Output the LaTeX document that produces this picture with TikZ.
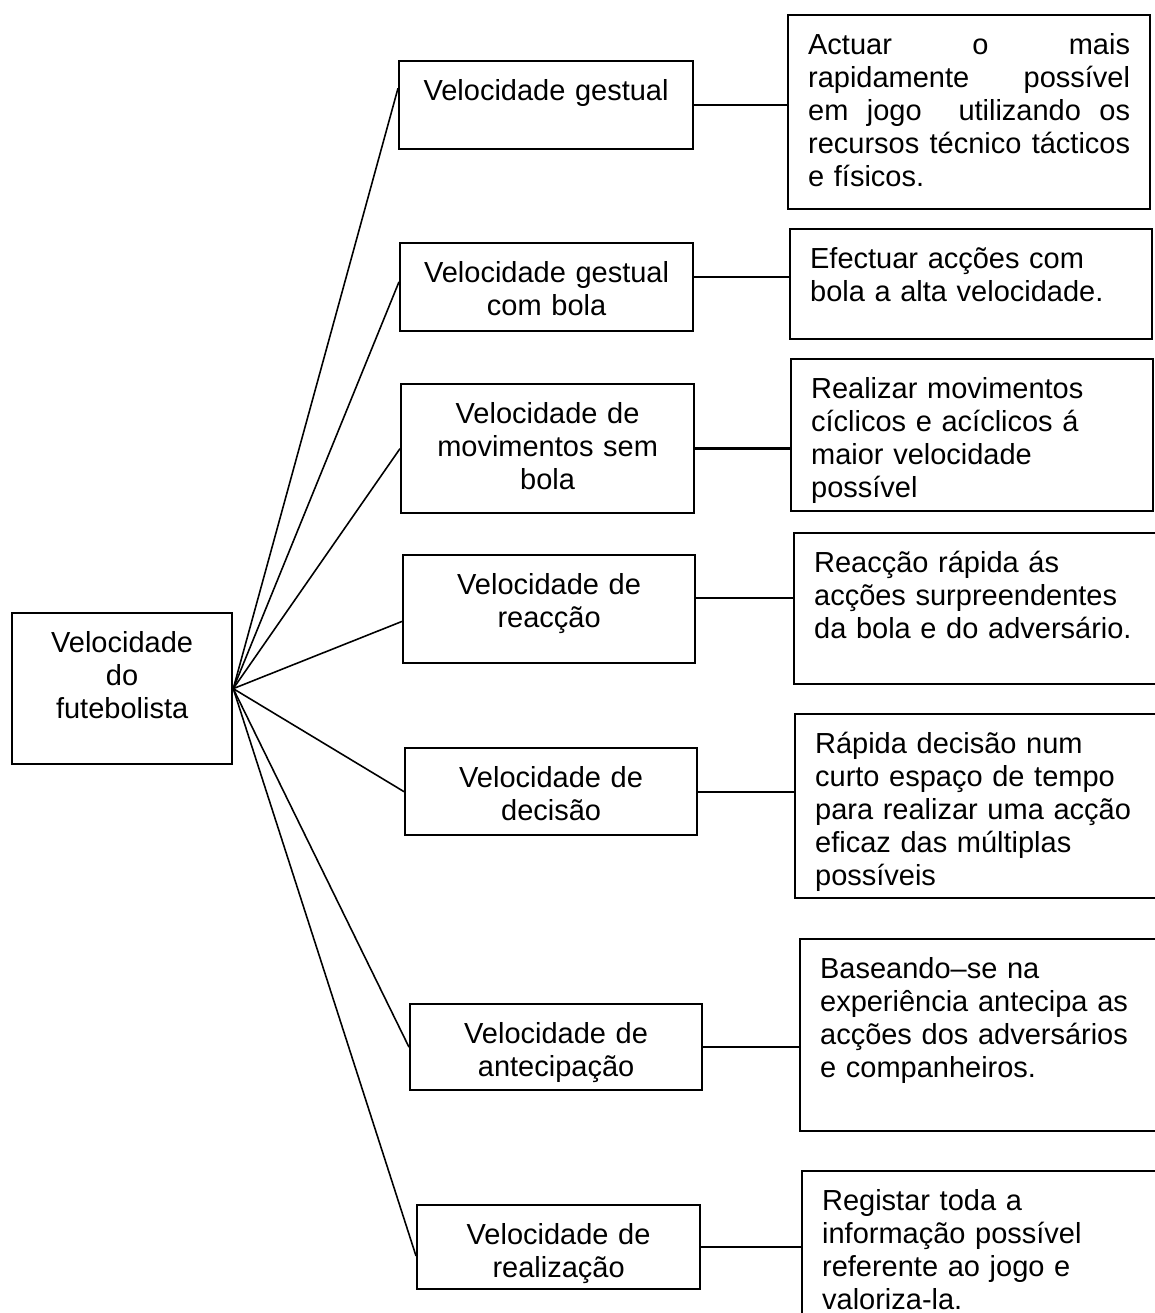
\documentclass[tikz,border=0pt]{standalone}
\usepackage{fontspec}
\setmainfont{Liberation Sans}
\usepackage{tikz}

\begin{document}
\begin{tikzpicture}[x=0.02cm, y=-0.02cm,
    every node/.style={font=\fontsize{16.5}{18.8}\selectfont},
    box/.style={draw, line width=1.3pt, anchor=north west, inner sep=0pt, text height=0.78cm},
    kind/.style={box, align=center},
    desc/.style={box, align=left, inner xsep=0.4cm, text width=6.44cm},
    descwide/.style={desc, text width=6.9cm},
    fan/.style={line width=0.9pt},
    link/.style={line width=1.3pt}]
  \useasboundingbox (0,0) rectangle (1155,1313);
  \clip (0,0) rectangle (1155,1313);
  \fill[white] (0,0) rectangle (1155,1313);

  \node[kind, text width=4.4cm, text depth=2.24cm] (vel) at (11,612) {Velocidade\\do\\futebolista};

  \node[kind, text width=5.88cm, text depth=0.98cm] (gest) at (398,60) {Velocidade gestual};
  \node[kind, text width=5.86cm, text depth=0.98cm] (gestbola) at (399,242) {Velocidade gestual\\com bola};
  \node[kind, text width=5.86cm, text depth=1.80cm] (movim) at (400,383) {Velocidade de\\movimentos sem\\bola};
  \node[kind, text width=5.84cm, text depth=1.38cm] (reac) at (402,554) {Velocidade de\\reacção};
  \node[kind, text width=5.84cm, text depth=0.96cm] (decis) at (404,747) {Velocidade de\\decisão};
  \node[kind, text width=5.84cm, text depth=0.94cm] (antec) at (409,1003) {Velocidade de\\antecipação};
  \node[kind, text width=5.66cm, text depth=0.90cm] (realiz) at (416,1204) {Velocidade de\\realização};

  \node[desc, text depth=3.10cm] (dgest) at (787,14)
    {Actuar\hfill o\hfill mais\\rapidamente\hfill possível\\em\hfill jogo\hfill\hfill utilizando\hfill os\\recursos\hfill técnico\hfill tácticos\\e físicos.};
  \node[desc, text depth=1.42cm] (dgestbola) at (789,228) {Efectuar acções com\\bola a alta velocidade.};
  \node[desc, text depth=2.26cm] (dmovim) at (790,358) {Realizar movimentos\\cíclicos e acíclicos á\\maior velocidade\\possível};
  \node[descwide, text depth=2.24cm] (dreac) at (793,532) {Reacção rápida ás\\acções surpreendentes\\da bola e do adversário.};
  \node[descwide, text depth=2.90cm] (ddecis) at (794,713) {Rápida decisão num\\curto espaço de tempo\\para realizar uma acção\\eficaz das múltiplas\\possíveis};
  \node[descwide, text depth=3.06cm] (dantec) at (799,938) {Baseando–se na\\experiência antecipa as\\acções dos adversários\\e companheiros.};
  \node[descwide, text depth=2.62cm] (drealiz) at (801,1170) {Registar toda a\\informação possível\\referente ao jogo e\\valoriza-la.};

  \draw[fan] (vel.east) -- ([yshift=9.6pt]gest.west);
  \draw[fan] (vel.east) -- ([yshift=3pt]gestbola.west);
  \draw[fan] (vel.east) -- (movim.west);
  \draw[fan] (vel.east) -- ([yshift=-7pt]reac.west);
  \draw[fan] (vel.east) -- (decis.west);
  \draw[fan] (vel.east) -- (antec.west);
  \draw[fan] (vel.east) -- ([yshift=-5pt]realiz.west);

  \draw[link] (gest.east) -- (gest.east -| dgest.west);
  \draw[link] ([yshift=5.7pt]gestbola.east) -- ([yshift=5.7pt]gestbola.east -| dgestbola.west);
  \draw[link] (movim.east) -- (movim.east -| dmovim.west);
  \draw[link] ([yshift=6.2pt]reac.east) -- ([yshift=6.2pt]reac.east -| dreac.west);
  \draw[link] (decis.east) -- (decis.east -| ddecis.west);
  \draw[link] (antec.east) -- (antec.east -| dantec.west);
  \draw[link] (realiz.east) -- (realiz.east -| drealiz.west);
\end{tikzpicture}
\end{document}
